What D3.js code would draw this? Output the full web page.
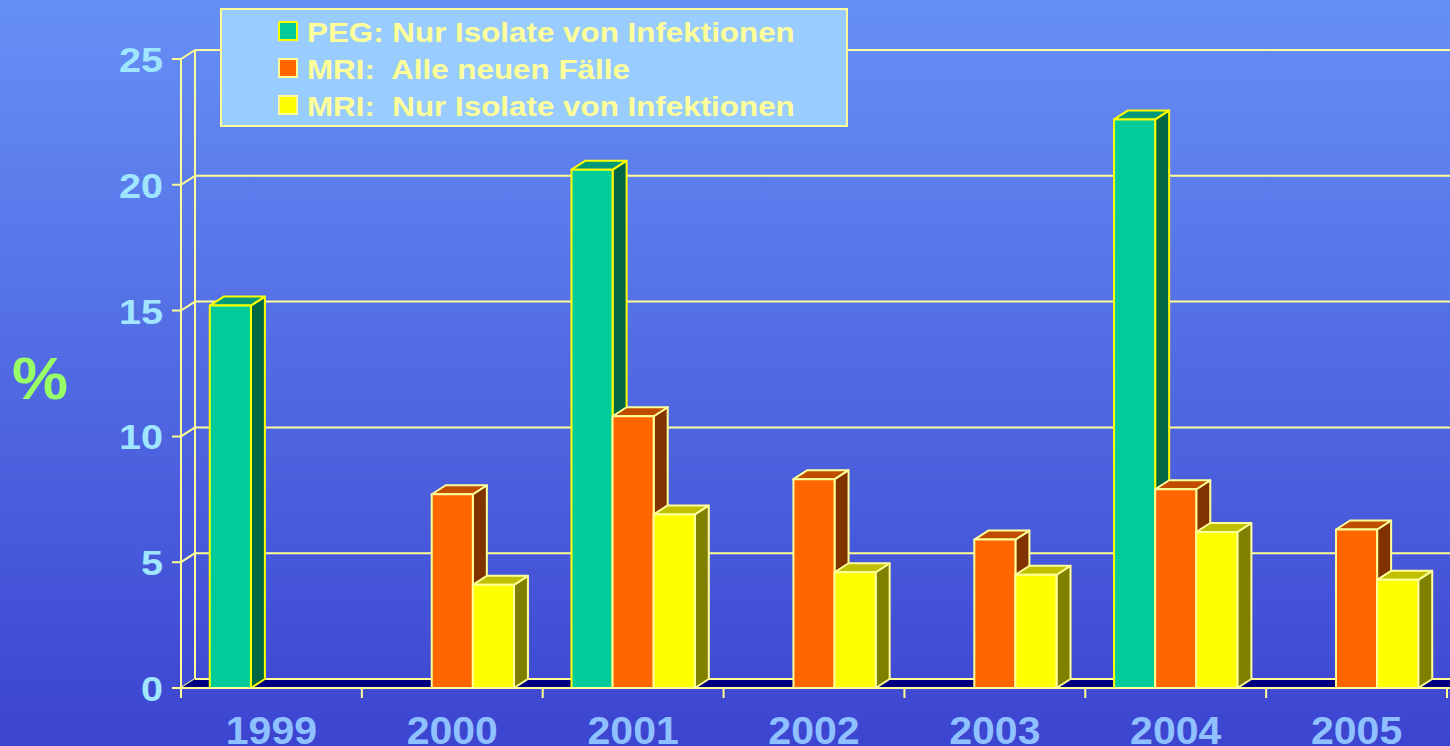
<!DOCTYPE html>
<meta charset="utf-8">
<script src="https://d3js.org/d3.v7.min.js"></script>
<style>
html, body { margin: 0; padding: 0; overflow: hidden; }
text { font-family: Arial, "Liberation Sans", sans-serif; font-weight: bold; }
</style>
<body>
<div id="chart"></div>
<script>

// data
var years = ["1999", "2000", "2001", "2002", "2003", "2004", "2005"];
var series = ["PEG: Nur Isolate von Infektionen", "MRI:  Alle neuen Fälle", "MRI:  Nur Isolate von Infektionen"];
var pegInfekt = [15.2, null, 20.6, null, null, 22.6, null];
var mriAlle = [null, 7.7, 10.8, 8.3, 5.9, 7.9, 6.3];
var mriInfekt = [null, 4.1, 6.9, 4.6, 4.5, 6.2, 4.3];
var yTicks = [0, 5, 10, 15, 20, 25];

var values = [pegInfekt, mriAlle, mriInfekt];
var fronts = ["#00CC99", "#FF6600", "#FFFF00"];
var sides  = ["#006644", "#803300", "#808000"];
var tops   = ["#009977", "#C04C00", "#C0C000"];
var edges  = ["#FFFF00", "#FFFF99", "#FFFF99"];

var W = 1450, H = 746;
var DX = 14, DY = -9;   // depth offset of the 3d box
var pale = "#FFFF99";

var svg = d3.select("#chart").append("svg")
    .attr("width", W).attr("height", H);

var defs = svg.append("defs");
var grad = defs.append("linearGradient").attr("id", "bg")
    .attr("x1", 0).attr("y1", 0).attr("x2", 0).attr("y2", 1);
grad.append("stop").attr("offset", "0%").attr("stop-color", "#6690F5");
grad.append("stop").attr("offset", "100%").attr("stop-color", "#3C44D0");
svg.append("rect").attr("width", W).attr("height", H).attr("fill", "url(#bg)");

var x = d3.scaleBand().domain(years).range([181, 1447]).padding(0);
var xs = d3.scaleBand().domain(d3.range(series.length))
    .range([0, x.bandwidth()]).paddingInner(0).paddingOuter(0.7);
var y = d3.scaleLinear().domain([0, 25]).range([688, 59]);

var x0 = x.range()[0], x1 = x.range()[1];

// back wall gridlines + left wall
var grid = svg.append("g").attr("stroke", pale).attr("stroke-width", 2).attr("fill", "none");
yTicks.forEach(function(t) {
  if (t > 0) {
    grid.append("line")
      .attr("x1", x0 + DX).attr("x2", x1 + DX + 20)
      .attr("y1", y(t) + DY).attr("y2", y(t) + DY);
  }
  grid.append("path")
    .attr("d", "M" + (x0 - 9) + "," + y(t) + "L" + x0 + "," + y(t) + "L" + (x0 + DX) + "," + (y(t) + DY));
});
grid.append("line").attr("x1", x0).attr("x2", x0).attr("y1", y(25)).attr("y2", y(0));
grid.append("line").attr("x1", x0 + DX).attr("x2", x0 + DX).attr("y1", y(25) + DY).attr("y2", y(0) + DY);

// floor
svg.append("path")
  .attr("d", "M" + x0 + "," + y(0) + "L" + (x1 + 20) + "," + y(0) + "L" + (x1 + 20) + "," + (y(0) + DY) +
             "L" + (x0 + DX) + "," + (y(0) + DY) + "Z")
  .attr("fill", "#000080");
svg.append("line").attr("x1", x0 + DX).attr("x2", x1 + 30)
  .attr("y1", y(0) + DY).attr("y2", y(0) + DY)
  .attr("stroke", pale).attr("stroke-width", 2);

// bars
var bars = svg.append("g");
years.forEach(function(yr, i) {
  values.forEach(function(vals, s) {
    var v = vals[i];
    if (v == null) return;
    var bx = x(yr) + xs(s), bw = xs.bandwidth();
    var top = y(v), bot = y(0);
    var g = bars.append("g").attr("stroke", edges[s]).attr("stroke-width", 2)
      .attr("stroke-linejoin", "round");
    g.append("path").attr("fill", sides[s])
      .attr("d", "M" + (bx + bw) + "," + bot + "L" + (bx + bw + DX) + "," + (bot + DY) +
                 "L" + (bx + bw + DX) + "," + (top + DY) + "L" + (bx + bw) + "," + top + "Z");
    g.append("path").attr("fill", tops[s])
      .attr("d", "M" + bx + "," + top + "L" + (bx + DX) + "," + (top + DY) +
                 "L" + (bx + bw + DX) + "," + (top + DY) + "L" + (bx + bw) + "," + top + "Z");
    g.append("rect").attr("fill", fronts[s])
      .attr("x", bx).attr("y", top).attr("width", bw).attr("height", bot - top);
  });
});

// front x axis
var ax = svg.append("g").attr("stroke", pale).attr("stroke-width", 2);
ax.append("line").attr("x1", x0).attr("x2", x1 + 10).attr("y1", y(0)).attr("y2", y(0));
years.concat(["end"]).forEach(function(yr, i) {
  var tx = x0 + i * x.bandwidth();
  ax.append("line").attr("x1", tx).attr("x2", tx).attr("y1", y(0)).attr("y2", y(0) + 10);
});

// labels (the original font is a bit wider than Liberation, so stretch horizontally)
svg.append("g").selectAll("text").data(yTicks).join("text")
  .attr("transform", function(d) { return "translate(163," + y(d) + ") scale(1.1,1)"; })
  .attr("dy", "0.36em").attr("text-anchor", "end")
  .attr("font-size", 36).attr("fill", "#A0E6FF")
  .text(function(d) { return d; });

svg.append("g").selectAll("text").data(years).join("text")
  .attr("transform", function(d) { return "translate(" + (x(d) + x.bandwidth() / 2) + ",744) scale(1.08,1)"; })
  .attr("text-anchor", "middle")
  .attr("font-size", 38).attr("fill", "#8FC0FF")
  .text(function(d) { return d; });

svg.append("text").attr("transform", "translate(40,399) scale(1.05,1)").attr("text-anchor", "middle")
  .attr("font-size", 60).attr("fill", "#99FF66").text("%");

// legend
var lg = svg.append("g");
lg.append("rect").attr("x", 221).attr("y", 9).attr("width", 626).attr("height", 117)
  .attr("fill", "#99CCFF").attr("stroke", pale).attr("stroke-width", 2);
series.forEach(function(name, s) {
  lg.append("rect").attr("x", 279).attr("y", 22 + s * 37).attr("width", 18).attr("height", 18)
    .attr("fill", fronts[s]).attr("stroke", edges[s]).attr("stroke-width", 2);
  lg.append("text").attr("transform", "translate(307," + (42 + s * 37) + ") scale(1.12,1)")
    .attr("font-size", 28).attr("fill", "#FFFF99")
    .style("white-space", "pre").text(name);
});

</script>
</body>
